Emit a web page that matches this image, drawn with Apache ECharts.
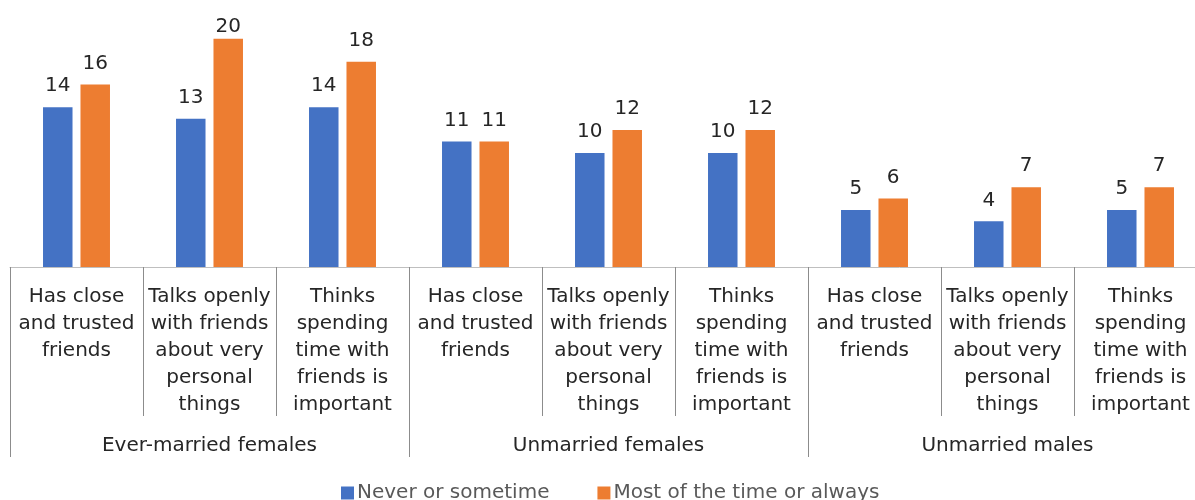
<!DOCTYPE html>
<html>
<head>
<meta charset="utf-8">
<script src="https://cdn.jsdelivr.net/npm/echarts@6/dist/echarts.min.js"></script>
<style>
  html, body { margin: 0; padding: 0; background: #fff; }
  #main { width: 1195px; height: 500px; }
</style>
</head>
<body>
<div id="main"></div>
<script>
var categories = [
    'Has close\nand trusted\nfriends',
    'Talks openly\nwith friends\nabout very\npersonal\nthings',
    'Thinks\nspending\ntime with\nfriends is\nimportant',
    'Has close\nand trusted\nfriends',
    'Talks openly\nwith friends\nabout very\npersonal\nthings',
    'Thinks\nspending\ntime with\nfriends is\nimportant',
    'Has close\nand trusted\nfriends',
    'Talks openly\nwith friends\nabout very\npersonal\nthings',
    'Thinks\nspending\ntime with\nfriends is\nimportant'
];
var groups = ['Ever-married females', 'Unmarried females', 'Unmarried males'];
var neverOrSometime = [14, 13, 14, 11, 10, 10, 5, 4, 5];
var mostOrAlways = [16, 20, 18, 11, 12, 12, 6, 7, 7];

var font = 'DejaVu Sans';
var yMax = 22;
var myChart = echarts.init(document.getElementById('main'));

// labels of the tallest bars get squeezed down to stay inside the plot, like in the original
function barData(values) {
    return values.map(function (v) {
        if (v >= 20) {
            return { value: v, label: { distance: 2 } };
        }
        return v;
    });
}

var barLabel = {
    show: true,
    position: 'top',
    distance: 11,
    fontFamily: font,
    fontSize: 20,
    color: '#262626'
};

var option = {
    backgroundColor: '#ffffff',
    animation: false,
    textStyle: { fontFamily: font },
    legend: {
        left: 336,
        top: 478,
        itemWidth: 13,
        itemHeight: 13,
        itemGap: 48,
        icon: 'rect',
        textStyle: { fontFamily: font, fontSize: 20, color: '#595959', padding: [0, 0, 0, -2] },
        data: ['Never or sometime', 'Most of the time or always']
    },
    grid: {
        left: 10,
        top: 16,
        width: 1197,
        height: 251,
        containLabel: false,
        outerBoundsMode: 'none'
    },
    xAxis: [
        {
            type: 'category',
            position: 'bottom',
            data: categories,
            axisLine: { lineStyle: { color: '#bfbfbf', width: 1 } },
            axisTick: { show: true, interval: 0, length: 149, lineStyle: { color: '#8c8c8c' } },
            axisLabel: {
                interval: 0,
                margin: 16,
                fontFamily: font,
                fontSize: 20,
                lineHeight: 27,
                color: '#262626',
                align: 'center'
            }
        },
        {
            type: 'category',
            position: 'bottom',
            data: groups,
            axisLine: { show: false },
            axisTick: { show: true, interval: 0, length: 190, lineStyle: { color: '#8c8c8c' } },
            axisLabel: {
                interval: 0,
                margin: 165,
                fontFamily: font,
                fontSize: 20,
                lineHeight: 27,
                color: '#262626'
            }
        }
    ],
    yAxis: {
        type: 'value',
        min: 0,
        max: yMax,
        show: false,
        splitLine: { show: false }
    },
    series: [
        {
            name: 'Never or sometime',
            type: 'bar',
            xAxisIndex: 0,
            barWidth: 29.5,
            barGap: '27%',
            itemStyle: { color: '#4472c4' },
            label: barLabel,
            data: barData(neverOrSometime)
        },
        {
            name: 'Most of the time or always',
            type: 'bar',
            xAxisIndex: 0,
            barWidth: 29.5,
            barGap: '27%',
            itemStyle: { color: '#ed7d31' },
            label: barLabel,
            data: barData(mostOrAlways)
        }
    ]
};
myChart.setOption(option);
</script>
</body>
</html>
